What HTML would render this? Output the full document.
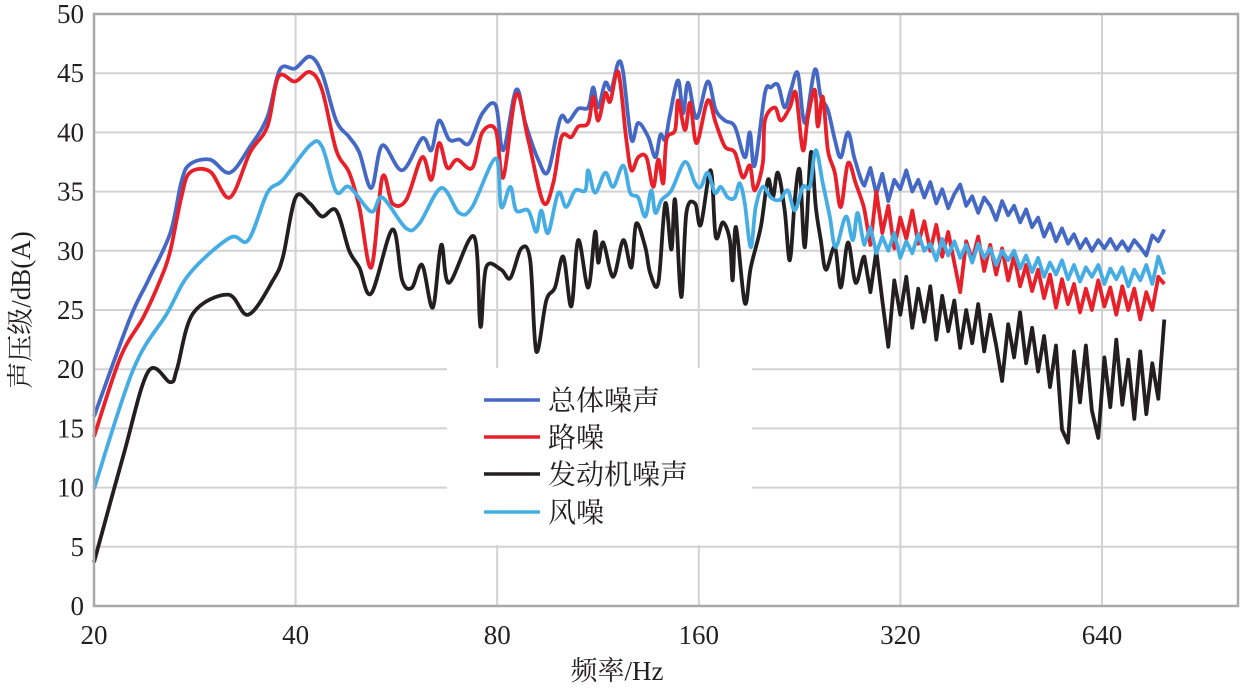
<!DOCTYPE html>
<html><head><meta charset="utf-8">
<style>
html,body{margin:0;padding:0;background:#fff;}
svg{display:block;}
text{font-family:"Liberation Serif","Noto Serif CJK SC",serif;fill:#231f20;}
</style></head>
<body>
<svg id="chart" width="1240" height="688" viewBox="0 0 1240 688" xmlns="http://www.w3.org/2000/svg">
<g id="grid"></g>
<g id="series"></g>
<g id="frame"></g>
<g id="ticks"></g>
<text x="617" y="680" font-size="27" text-anchor="middle">频率/Hz</text>
<text x="0" y="0" font-size="27" text-anchor="middle" transform="translate(30,310) rotate(-90)">声压级/dB(A)</text>
<g id="legend"></g>
</svg>
<script>
const xTicks=[20,40,80,160,320,640];
const yTicks=[0,5,10,15,20,25,30,35,40,45,50];
const seriesNames=["总体噪声","路噪","发动机噪声","风噪"];
const hiFreq=[282.7,288.6,294.6,300.7,307.0,313.4,319.9,326.6,333.4,340.3,347.4,354.6,362.0,369.5,377.2,385.1,393.1,401.3,409.6,418.1,426.8,435.7,444.8,454.0,463.5,473.1,482.9,493.0,503.2,513.7,524.4,535.3,546.4,557.8,569.4,581.2,593.3,605.6,618.2,632.0,645.2,658.6,672.3,686.3,700.6,715.2,730.1,745.3,760.8,776.6,792.8];
const totalLowF=[20,22.6,24.1,26.0,27.0,27.8,29.8,31.9,34.2,36.3,37.9,39.9,42.0,43.8,46.0,48.1,49.8,51.9,53.9,57.7,61.8,63.8,65.5,67.8,70.2,72.7,76.0,79.6,81.7,85.4,88.1,92.1,95.3,99.4,102.1,105.7,109.4,111.3,113.2,116.0,118.4,121.3,123.4,126.9,129.9,134.5,137.8,140.2,142.6,145.0,149.0,151.6,154.2,158.8,165.0,169.6,175.0,181.1,187.4,190.7,193.9,200.8,205.0,210.0,215.0,219.6,224.9,230.4,238.4,243.4,249.4,255.4,260.7,267.2,273.6];
const totalLowV=[16,24.2,27.5,31.5,35.8,37.3,37.7,36.6,38.8,41.3,45.3,45.4,46.4,45,41,39.6,38.3,35.3,38.9,36.8,39.5,38.5,41,39.4,39.4,39.1,41.6,42.3,38.5,43.6,40.8,37.7,36.7,41.2,40.9,42,42.1,43.8,42.1,44.2,43.6,45.9,45,39.4,40.8,39.6,37.9,39.8,39.4,41.6,44.4,41.6,44.2,41.2,44.3,41.9,41,40.5,37.9,40,37.2,43.3,43.8,44,42.1,43.6,45,40.8,45.3,43,41.9,39.4,37.9,40,37.7];
const totalHiV=[35.5,37.0,34.8,36.5,34.2,36.0,35.2,36.8,35.0,36.0,34.5,35.8,34.0,35.2,33.6,34.8,35.6,33.8,34.6,33.2,34.5,33.8,32.6,34.2,33.0,33.8,32.4,33.5,32.0,32.8,31.2,32.3,30.8,31.9,30.6,31.4,30.2,31.0,30.0,30.9,30.2,31.0,30.1,30.8,30.0,30.9,30.3,29.6,31.3,30.8,31.8];
const roadLowF=[20,21.9,23.7,25.1,26.0,27.0,27.8,29.8,31.9,34.2,36.3,37.7,39.9,42.0,43.8,46.0,48.1,49.8,51.9,53.9,55.8,58.5,61.8,63.8,65.5,67.4,69.7,73.4,76.0,79.6,81.7,85.4,89.0,93.7,97.0,99.8,103.2,105.7,109.4,111.3,113.2,116.0,118.0,121.3,124.7,126.9,129.9,133.6,136.8,139.2,141.6,143.2,147.5,149.0,152.6,155.3,158.8,165.0,169.6,175.0,181.1,186.1,190.7,193.9,199.4,200.8,207.8,212.1,218.8,223.4,228.8,232.8,238.4,240.9,245.1,249.4,255.4,260.7,267.2,274.4];
const roadLowV=[14.3,21,24.4,27.5,30,34.5,36.6,36.7,34.5,38.3,40.5,44.7,44.3,45.1,43.6,38.5,36.6,33.7,28.6,36.2,34,34.3,37.9,36,39.1,37,37.7,37,40,40.2,36.2,43.2,39.4,34.1,35.7,39.6,39.6,40.5,40.8,43,41,43.3,42.6,45.1,39.4,36.8,37.9,37.9,35.4,37.7,35.7,39.4,40.2,42.7,40.2,42.5,39.1,42.7,40.8,38.8,38.3,36.2,37.2,35.1,37.4,41,42.1,41,42.1,43.3,38.5,41.3,43.6,40.5,43,38.5,36.6,33.7,37.4,35.7];
const roadHiV=[33.5,30.5,35.0,31.5,33.8,30.2,32.8,31.0,33.4,30.6,32.5,30.0,32.2,29.5,31.6,29.0,26.5,30.8,29.2,31.2,28.3,30.5,28.0,30.2,27.5,29.6,27.0,28.8,26.6,28.4,26.0,28.0,25.2,27.6,25.5,27.2,24.8,26.8,25.0,27.5,25.3,26.9,24.6,27.0,25.0,26.8,24.2,26.5,25.0,27.8,27.2];
const engineLowF=[20,22.1,24.1,26.0,26.6,28.1,31.7,34.0,37.0,38.3,40.0,42.0,43.8,46.0,48.1,49.8,51.9,55.8,57.7,59.7,61.8,64.1,66.0,67.8,73.9,75.5,77.0,81.1,83.7,86.9,89.6,91.5,94.7,97.6,100.4,103.2,105.7,109.4,112.0,113.2,115.2,119.2,123.4,126.9,129.0,133.1,135.4,139.2,142.6,145.6,147.5,150.6,153.3,158.0,161.1,166.7,169.6,173.8,178.0,179.8,181.8,187.4,191.3,198.0,202.9,206.4,210.0,215.0,218.8,222.6,226.4,230.4,235.2,239.2,243.4,247.7,255.4,260.7,267.2,274.4];
const engineLowV=[3.7,12.6,19.8,18.9,20,24.7,26.3,24.6,27.5,29.5,34.5,34,32.9,33.4,30,28.6,26.4,31.8,27.5,26.9,28.8,25.2,30.5,27.3,31.2,23.6,28.6,28.4,27.7,30.2,29.2,21.5,25.8,26.9,29.5,25.3,30.9,26.9,31.6,29,30.7,27.8,30.9,28.6,32.3,30.3,28.1,27.3,34,30.1,34.3,26.1,33.2,34,32.2,36.8,31.2,32.4,30.9,27.5,32,25.6,28.6,32,36,34.5,36.6,33.4,29.2,34.3,36.8,30.3,38.3,33.7,30.9,28.4,30.3,26.9,30.7,27.3];
const engineHiV=[29.5,26.5,30.0,25.8,21.9,27.5,24.6,27.8,23.5,26.8,24.0,27.0,22.5,26.2,23.2,25.8,21.8,25.0,22.2,25.5,21.5,24.6,22.0,19.0,23.8,21.0,24.8,20.5,23.5,19.8,22.8,18.5,22.0,14.9,13.8,21.5,17.2,22.0,16.5,14.2,21.0,16.8,22.5,17.0,20.8,15.8,21.5,16.2,20.5,17.5,24.2];
const windLowF=[20,22.9,25.7,27.8,31.9,34.0,36.3,38.3,42.0,43.8,46.0,48.1,51.9,53.9,58.5,61.2,66.0,70.2,73.4,79.6,81.1,83.7,85.4,89.0,91.5,93.1,95.3,98.7,101.4,104.6,108.3,109.4,112.0,116.0,119.2,123.4,126.4,129.9,133.1,135.9,137.8,140.8,145.6,152.6,158.0,161.1,165.0,169.1,172.6,176.8,181.1,184.2,187.4,191.3,194.6,199.4,205.0,211.4,217.3,222.6,228.8,234.4,239.2,245.1,251.0,256.2,265.3,271.7,276.3];
const windLowV=[9.9,20,24.7,28.1,31.1,30.9,34.9,36,38.9,38.8,35,35.4,33.3,34.5,31.9,32.3,35.3,33.2,33.7,37.8,33.7,35.4,33.4,33.4,31.6,33.4,31.5,34.9,33.7,35.1,35.1,36.8,34.9,36.6,35.4,37.2,34.9,34.5,32.9,35.1,33.2,34.3,35.1,37.5,35.7,35.4,36.6,34.9,35.4,34.5,34.5,35.7,34,30.3,33.7,35.4,34.5,34.3,35.1,33.4,35.4,35.4,38.5,35.7,32.9,30.3,32.9,30.9,33.2];
const windHiV=[30.5,32.0,29.8,31.2,30.0,31.5,29.4,30.8,29.8,31.4,30.0,30.6,29.2,31.0,29.6,30.8,29.4,30.5,29.0,30.6,29.4,30.2,28.8,30.0,29.2,30.0,28.5,29.6,28.2,29.4,27.8,29.0,28.0,29.2,27.6,28.8,27.4,28.6,27.8,28.8,27.2,28.5,27.6,28.6,27.0,28.4,27.5,28.8,27.2,29.5,28.0];

const L=94,R=1238,T=14,B=606;
function xs(f){return L+Math.log2(f/20)*201.6;}
function ys(v){return B-(v/50)*(B-T);}
const NS="http://www.w3.org/2000/svg";
function mk(tag,parent,attrs){const e=document.createElementNS(NS,tag);for(const k in attrs)e.setAttribute(k,attrs[k]);parent.appendChild(e);return e;}

const grid=document.getElementById('grid');
yTicks.forEach(t=>{if(t===0||t===50)return;
 const l=mk('line',grid,{x1:L,x2:R,y1:ys(t),y2:ys(t),stroke:'#d2d2d2','stroke-width':2});
 
 });
xTicks.forEach(t=>{if(t===20)return;
 const l=mk('line',grid,{x1:xs(t),x2:xs(t),y1:T,y2:B,stroke:'#d2d2d2','stroke-width':2});
 
 });
const fr=mk('rect',document.getElementById('frame'),{x:L,y:T,width:R-L,height:B-T,fill:'none',stroke:'#a9a9a9','stroke-width':2.5});



const tk=document.getElementById('ticks');
yTicks.forEach(t=>{const e=mk('text',tk,{x:84,y:ys(t)+9,'font-size':27,'text-anchor':'end'});e.textContent=t;
 
 });
xTicks.forEach(t=>{const e=mk('text',tk,{x:xs(t),y:644,'font-size':27,'text-anchor':'middle'});e.textContent=t;
 
 });

function pathFor(F,V){
 const p=F.map((f,i)=>[xs(f),ys(V[i])]);
 let d='M'+p[0][0].toFixed(1)+','+p[0][1].toFixed(1);
 for(let i=0;i<p.length-1;i++){
  const p0=p[Math.max(0,i-1)],p1=p[i],p2=p[i+1],p3=p[Math.min(p.length-1,i+2)];
  if(F[i]>280){d+='L'+p2[0].toFixed(1)+','+p2[1].toFixed(1);continue;}
  const k=1/6;
  const c1x=p1[0]+(p2[0]-p0[0])*k,c1y=p1[1]+(p2[1]-p0[1])*k;
  const c2x=p2[0]-(p3[0]-p1[0])*k,c2y=p2[1]-(p3[1]-p1[1])*k;
  d+='C'+c1x.toFixed(1)+','+c1y.toFixed(1)+' '+c2x.toFixed(1)+','+c2y.toFixed(1)+' '+p2[0].toFixed(1)+','+p2[1].toFixed(1);
 }
 return d;
}
const sg=document.getElementById('series');
const defs=[
 ['total-noise-line','#4468c4',totalLowF.concat(hiFreq),totalLowV.concat(totalHiV)],
 ['engine-noise-line','#231f20',engineLowF.concat(hiFreq),engineLowV.concat(engineHiV)],
 ['road-noise-line','#e8202a',roadLowF.concat(hiFreq),roadLowV.concat(roadHiV)],
 ['wind-noise-line','#45ade3',windLowF.concat(hiFreq),windLowV.concat(windHiV)]
];
defs.forEach(s=>{const e=mk('path',sg,{d:pathFor(s[2],s[3]),fill:'none',stroke:s[1],'stroke-width':3.8,'stroke-linejoin':'round'});
 
 });

const lg=document.getElementById('legend');
const bg=mk('rect',lg,{x:447,y:368,width:305,height:177,fill:'#fff'});


const lc=['#4468c4','#e8202a','#231f20','#45ade3'];
const ly=[400,437,474,512];
seriesNames.forEach((n,i)=>{
 const l=mk('line',lg,{x1:484,x2:540,y1:ly[i],y2:ly[i],stroke:lc[i],'stroke-width':3.6});
 
 
 const t=mk('text',lg,{x:548,y:ly[i]+10,'font-size':28});t.textContent=n;
 
 
});
</script>
</body></html>
